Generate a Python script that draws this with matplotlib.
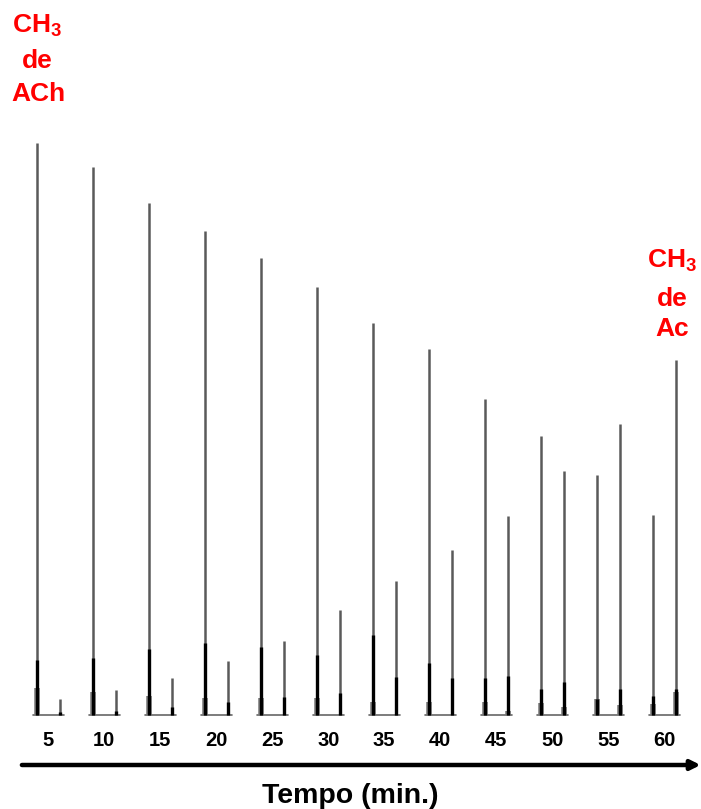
import matplotlib
matplotlib.use('Agg')
import matplotlib.pyplot as plt
import numpy as np

tempos = [5, 10, 15, 20, 25, 30, 35, 40, 45, 50, 55, 60]
ach_altura = [572, 548, 512, 484, 457, 428, 392, 366, 316, 279, 240, 200]
ach_nucleo = [55, 57, 66, 72, 68, 60, 80, 52, 37, 26, 16, 19]
ach_base = [27, 23, 19, 17, 17, 17, 13, 13, 13, 12, 16, 11]
ac_altura = [16, 25, 37, 54, 74, 105, 134, 165, 199, 244, 291, 355]
ac_nucleo = [3, 4, 8, 13, 18, 22, 38, 37, 39, 33, 26, 26]
ac_base = [0, 0, 0, 0, 0, 0, 0, 0, 4, 8, 10, 23]

plt.rcParams['font.family'] = ['Liberation Sans', 'DejaVu Sans']
plt.rcParams['mathtext.fontset'] = 'custom'
plt.rcParams['mathtext.rm'] = 'Liberation Sans'
plt.rcParams['mathtext.bf'] = 'Liberation Sans:bold'

fig = plt.figure(figsize=(7.01, 8.09), dpi=100)
ax = fig.add_axes([0, 0, 1, 1])
ax.set_xlim(-0.661, 11.857)
ax.set_ylim(-94, 715)
ax.axis('off')

x = np.arange(len(tempos))
desloc = 0.41  # posicao do pico do acetato dentro de cada espectro

# linha de base de cada espectro
for xi in x:
    ax.plot([xi - 0.07, xi + desloc + 0.07], [0, 0], color='#666666', lw=1.2,
            solid_capstyle='round')

# picos
xa = x + desloc
ax.vlines(x, 0, ach_base, color='#7a7a7a', lw=4)
ax.vlines(xa, 0, ac_base, color='#7a7a7a', lw=4)
ax.vlines(x, 0, ach_altura, color='#5a5a5a', lw=1.8)
ax.vlines(xa, 0, ac_altura, color='#5a5a5a', lw=1.8)
ax.vlines(x, 0, ach_nucleo, color='black', lw=2.4)
ax.vlines(xa, 0, ac_nucleo, color='black', lw=2.4)

# rotulos de tempo
for xi, t in zip(x, tempos):
    ax.text(xi + 0.2, -25, str(t), ha='center', va='center',
            fontsize=14.5, fontweight='bold')

# seta do tempo
ax.annotate('', xy=(11.85, -50), xytext=(-0.27, -50),
            arrowprops=dict(arrowstyle='-|>', lw=3.2, color='black',
                            mutation_scale=14, shrinkA=0, shrinkB=0))
ax.text(5.6, -81, 'Tempo (min.)', ha='center', va='center',
        fontsize=20.5, fontweight='bold')

# legendas vermelhas
vermelho = '#ff0000'
fs = 19
ax.text(0.0, 689, r'$\mathbf{CH_3}$', ha='center', va='center',
        fontsize=fs, color=vermelho)
ax.text(0.0, 654, 'de', ha='center', va='center', fontsize=fs,
        fontweight='bold', color=vermelho)
ax.text(0.03, 621, 'ACh', ha='center', va='center', fontsize=fs,
        fontweight='bold', color=vermelho)

ax.text(11.34, 454, r'$\mathbf{CH_3}$', ha='center', va='center',
        fontsize=fs, color=vermelho)
ax.text(11.34, 416, 'de', ha='center', va='center', fontsize=fs,
        fontweight='bold', color=vermelho)
ax.text(11.34, 386, 'Ac', ha='center', va='center', fontsize=fs,
        fontweight='bold', color=vermelho)

fig.savefig('out.png', dpi=100)
